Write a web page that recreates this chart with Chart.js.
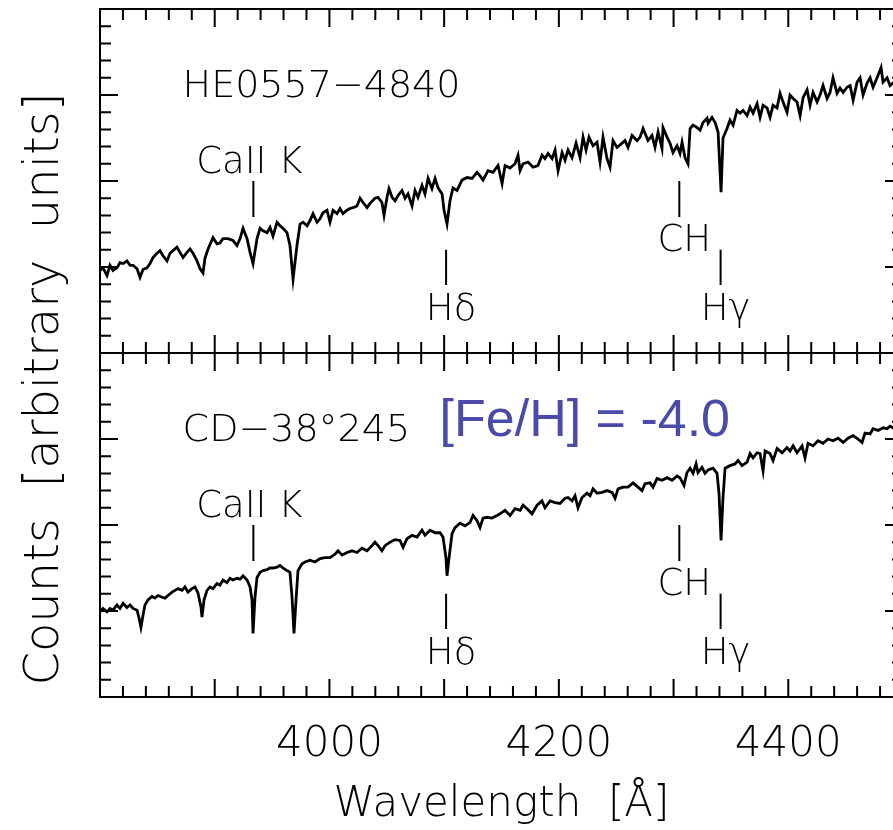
<!DOCTYPE html>
<html>
<head>
<meta charset="utf-8">
<script src="https://cdn.jsdelivr.net/npm/chart.js@4.4.1/dist/chart.umd.min.js"></script>
<style>
html,body{margin:0;padding:0;background:#fff;overflow:hidden;}
#wrap{width:893px;height:830px;overflow:hidden;}
canvas{display:block;}
</style>
</head>
<body>
<div id="wrap"><canvas id="spec" width="910" height="830"></canvas></div>
<script>
// HE0557-4840 (upper panel), wavelength in A, counts in arbitrary units
var topWave = [
3800.0,3802.6,3806.1,3808.7,3811.3,3814.8,3817.4,3820.1,3823.5,3826.2,
3828.8,3832.3,3834.9,3837.5,3841.0,3843.6,3846.2,3849.7,3852.3,3854.9,
3858.4,3861.0,3863.6,3867.1,3869.7,3872.4,3875.8,3878.5,3881.1,3884.6,
3887.2,3889.8,3891.5,3894.2,3898.5,3902.0,3904.6,3907.2,3911.6,3915.9,
3919.4,3922.1,3924.7,3928.2,3930.8,3933.4,3936.9,3939.5,3942.1,3945.6,
3948.2,3950.8,3954.3,3956.9,3959.5,3963.0,3965.6,3968.3,3971.7,3974.4,
3977.0,3980.5,3983.1,3985.7,3989.2,3991.8,3994.4,3997.9,4000.5,4003.1,
4006.6,4009.2,4011.8,4015.3,4017.9,4020.6,4024.0,4026.7,4029.3,4032.8,
4035.4,4039.7,4042.4,4045.8,4047.6,4050.2,4051.9,4054.6,4057.2,4059.8,
4063.3,4065.9,4068.5,4072.0,4074.6,4077.2,4080.7,4083.3,4086.0,4089.4,
4092.1,4094.7,4098.2,4099.9,4102.5,4105.1,4107.7,4111.2,4115.6,4119.9,
4124.3,4128.7,4131.3,4133.9,4138.3,4142.6,4147.0,4150.5,4153.1,4157.4,
4161.8,4164.4,4166.2,4168.8,4173.1,4177.5,4181.8,4185.3,4187.9,4190.6,
4194.1,4196.7,4199.3,4202.8,4205.4,4208.0,4211.5,4215.0,4218.5,4221.1,
4223.7,4226.3,4229.8,4233.3,4235.9,4238.5,4242.0,4244.6,4247.2,4250.7,
4255.1,4257.7,4260.3,4263.8,4268.2,4270.8,4273.4,4277.7,4281.2,4283.8,
4286.5,4289.9,4290.8,4294.3,4296.9,4299.5,4303.0,4305.6,4307.4,4310.0,
4312.6,4314.4,4317.0,4320.5,4323.1,4325.7,4329.2,4330.1,4333.5,4336.2,
4338.8,4341.4,4343.1,4346.6,4349.2,4351.9,4355.3,4358.0,4360.6,4364.1,
4366.7,4369.3,4372.8,4375.4,4378.0,4381.5,4384.1,4386.7,4390.2,4392.8,
4395.4,4398.9,4401.5,4404.2,4407.6,4410.3,4412.9,4416.4,4419.0,4421.6,
4425.1,4427.7,4430.3,4433.8,4436.4,4439.0,4442.5,4445.1,4447.8,4451.2,
4453.9,4456.5,4460.0,4462.6,4465.2,4468.7,4471.3,4473.9,4477.4,4480.9,
4482.6,4486.1,4488.7,4491.3,4494.8,4500.0
];
var topFlux = [
0.96,0.99,0.90,1.02,0.96,0.99,1.05,1.04,1.07,1.02,
1.02,0.98,0.88,0.97,0.99,1.04,1.11,1.16,1.19,1.13,
1.07,1.16,1.19,1.23,1.17,1.11,1.17,1.21,1.16,1.07,
0.98,0.93,1.10,1.21,1.34,1.27,1.28,1.33,1.33,1.31,
1.25,1.33,1.45,1.33,1.17,1.04,1.33,1.45,1.42,1.40,
1.46,1.36,1.52,1.48,1.45,1.40,1.25,0.86,1.25,1.50,
1.52,1.48,1.54,1.62,1.52,1.56,1.63,1.66,1.52,1.66,
1.62,1.68,1.62,1.66,1.68,1.69,1.71,1.80,1.75,1.69,
1.74,1.80,1.81,1.75,1.60,1.81,1.91,1.81,1.77,1.83,
1.89,1.80,1.85,1.71,1.89,1.81,1.95,1.85,2.03,1.91,
2.03,1.92,1.85,1.66,1.50,1.77,1.92,1.89,2.01,2.04,
2.03,2.10,2.06,2.01,2.12,2.10,2.18,1.97,2.18,2.15,
2.20,2.30,2.12,2.20,2.22,2.16,2.18,2.30,2.26,2.32,
2.26,2.36,2.12,2.33,2.24,2.36,2.27,2.44,2.27,2.51,
2.36,2.51,2.41,2.45,2.22,2.51,2.26,2.16,2.47,2.39,
2.44,2.47,2.39,2.53,2.47,2.51,2.61,2.47,2.53,2.39,
2.57,2.38,2.62,2.51,2.44,2.33,2.41,2.32,2.45,2.27,
2.20,2.61,2.65,2.62,2.59,2.68,2.73,2.67,2.74,2.68,
2.57,1.87,2.50,2.61,2.71,2.65,2.82,2.79,2.82,2.76,
2.86,2.79,2.90,2.74,2.88,2.85,2.74,2.88,2.85,3.02,
2.92,2.80,3.00,2.96,2.92,2.76,2.97,3.06,2.88,3.03,
2.92,3.00,3.11,2.96,3.03,3.20,3.02,3.08,3.03,3.09,
3.11,2.94,3.15,3.20,3.00,3.14,3.20,3.09,3.20,3.32,
3.15,3.20,3.11,3.14,3.17,3.20
];

// CD-38 245 (lower panel)
var botWave = [
3800.0,3802.6,3806.1,3808.7,3811.3,3814.8,3817.4,3820.1,3823.5,3826.2,
3828.8,3832.3,3834.0,3835.7,3837.5,3839.2,3841.8,3845.3,3847.9,3850.6,
3854.1,3856.7,3859.3,3862.8,3865.4,3868.0,3871.5,3874.1,3876.7,3880.2,
3882.8,3885.4,3888.1,3888.9,3890.7,3893.3,3895.9,3898.5,3902.0,3904.6,
3907.2,3910.7,3913.3,3915.9,3919.4,3922.1,3924.7,3928.2,3930.8,3932.5,
3933.4,3935.1,3936.9,3939.5,3942.1,3945.6,3948.2,3950.8,3954.3,3956.9,
3959.5,3963.0,3965.6,3967.4,3969.1,3970.9,3972.6,3976.1,3978.7,3983.1,
3987.4,3991.8,3996.2,4000.5,4004.9,4007.5,4011.0,4015.3,4019.7,4024.0,
4028.4,4032.8,4037.1,4039.7,4042.4,4045.8,4048.5,4052.8,4057.2,4061.5,
4064.2,4067.6,4072.0,4076.4,4080.7,4083.3,4087.7,4092.1,4096.4,4099.0,
4101.6,4102.5,4104.3,4106.9,4109.5,4113.8,4118.2,4122.6,4125.2,4128.7,
4131.3,4133.9,4137.4,4141.7,4146.1,4148.7,4153.1,4157.4,4161.8,4166.2,
4168.8,4172.3,4176.6,4181.0,4185.3,4187.9,4192.3,4196.7,4201.0,4205.4,
4208.0,4211.5,4214.1,4216.7,4220.2,4224.6,4227.2,4229.8,4233.3,4237.6,
4242.0,4246.4,4249.0,4251.6,4255.9,4260.3,4264.7,4269.0,4272.5,4275.1,
4279.5,4282.1,4285.6,4290.0,4294.3,4298.7,4303.0,4305.6,4309.1,4311.7,
4314.4,4317.0,4319.6,4321.3,4324.8,4327.4,4330.1,4334.4,4337.9,4339.6,
4341.4,4343.1,4344.9,4349.2,4353.6,4356.2,4359.7,4364.1,4366.7,4369.3,
4372.8,4375.4,4378.0,4379.8,4384.1,4386.7,4390.2,4394.6,4398.9,4401.5,
4404.2,4407.6,4412.0,4414.6,4417.2,4421.6,4425.9,4430.3,4434.7,4439.0,
4443.4,4447.8,4452.1,4456.5,4460.8,4464.3,4466.9,4471.3,4473.9,4478.3,
4482.6,4486.1,4488.7,4491.3,4494.8,4500.0
];
var botFlux = [
0.99,1.03,0.99,1.03,1.01,1.07,1.03,1.09,1.04,1.07,
1.03,1.01,0.92,0.81,0.95,1.07,1.13,1.17,1.15,1.18,
1.16,1.15,1.18,1.22,1.24,1.26,1.24,1.28,1.22,1.26,
1.28,1.21,1.04,0.93,1.13,1.24,1.28,1.26,1.32,1.30,
1.36,1.33,1.38,1.36,1.38,1.37,1.41,1.36,1.28,1.13,
0.74,1.16,1.39,1.45,1.47,1.48,1.50,1.50,1.51,1.53,
1.50,1.47,1.45,1.16,0.74,1.13,1.47,1.55,1.57,1.59,
1.57,1.61,1.62,1.62,1.66,1.70,1.65,1.68,1.70,1.68,
1.73,1.70,1.76,1.80,1.76,1.70,1.76,1.80,1.83,1.82,
1.74,1.84,1.88,1.86,1.94,1.88,1.94,1.91,1.91,1.86,
1.62,1.41,1.62,1.90,1.97,2.02,1.99,2.03,2.11,2.05,
1.97,2.08,2.09,2.08,2.11,2.13,2.17,2.11,2.19,2.17,
2.23,2.19,2.13,2.23,2.28,2.20,2.28,2.26,2.25,2.31,
2.32,2.28,2.34,2.20,2.32,2.37,2.34,2.42,2.37,2.38,
2.40,2.38,2.31,2.42,2.44,2.44,2.49,2.44,2.40,2.48,
2.49,2.44,2.54,2.52,2.55,2.52,2.57,2.55,2.46,2.61,
2.66,2.60,2.71,2.61,2.67,2.60,2.64,2.66,2.60,2.37,
1.82,2.32,2.66,2.69,2.71,2.75,2.69,2.73,2.83,2.78,
2.84,2.83,2.63,2.86,2.83,2.75,2.89,2.84,2.90,2.86,
2.92,2.84,2.92,2.78,2.95,2.92,2.98,2.95,3.00,2.98,
3.01,2.96,3.01,3.04,3.00,2.96,3.07,3.06,3.12,3.10,
3.13,3.12,3.15,3.13,3.15,3.17
];

var xTickLabels = [4000, 4200, 4400];
var starNames = ['HE0557\u22124840', 'CD\u221238\u00b0245'];
var metalLabel = '[Fe/H] = -4.0';
var lineNames = ['CaII K', 'H\u03b4', 'CH', 'H\u03b3'];
var lineWave = [3933.7, 4101.7, 4305, 4341];

;(function(win){
    var thin = '200 ';
    var main = {
        init: function(){
            this.createChart();
        },

        // frame, inward ticks and line labels for both panels
        framePlugin: {
            id: 'frame',
            afterDatasetsDraw: function(chart){
                var ctx = chart.ctx;
                var x = chart.scales.x;
                var panels = [chart.scales.yTop, chart.scales.yBot];
                var markTop = [2.0, 1.2, 2.0, 1.2];
                var markBot = [1.58, 0.79, 1.58, 0.79];
                var textBase = [2.09, 0.38, 1.19, 0.38];
                var textShift = [-4, 5, 5, 5];
                ctx.save();
                ctx.strokeStyle = '#000';
                ctx.fillStyle = '#000';
                ctx.lineWidth = 2;
                panels.forEach(function(y, p){
                    ctx.strokeRect(x.left, y.top, x.right - x.left, y.bottom - y.top);
                    ctx.beginPath();
                    for (var w = 3800; w <= 4500; w += 20) {
                        var px = x.getPixelForValue(w);
                        var len = (w % 100 === 0) ? 18 : 11;
                        ctx.moveTo(px, y.top);
                        ctx.lineTo(px, y.top + len);
                        ctx.moveTo(px, y.bottom);
                        ctx.lineTo(px, y.bottom - len);
                    }
                    for (var i = 0; i <= 20; i++) {
                        var py = y.getPixelForValue(i / 5);
                        var l = (i % 5 === 0) ? 18 : 11;
                        ctx.moveTo(x.left, py);
                        ctx.lineTo(x.left + l, py);
                        ctx.moveTo(x.right, py);
                        ctx.lineTo(x.right - l, py);
                    }
                    for (var k = 0; k < lineWave.length; k++) {
                        var mx = x.getPixelForValue(lineWave[k]);
                        ctx.moveTo(mx, y.getPixelForValue(markTop[k]));
                        ctx.lineTo(mx, y.getPixelForValue(markBot[k]));
                    }
                    ctx.stroke();

                    ctx.font = thin + '37px "DejaVu Sans"';
                    ctx.textAlign = 'center';
                    ctx.textBaseline = 'alphabetic';
                    for (var n = 0; n < lineNames.length; n++) {
                        ctx.fillText(lineNames[n], x.getPixelForValue(lineWave[n]) + textShift[n], y.getPixelForValue(textBase[n]));
                    }
                    ctx.textAlign = 'left';
                    ctx.font = thin + '38px "DejaVu Sans"';
                    ctx.fillText(starNames[p], x.getPixelForValue(3872), y.getPixelForValue(2.98));
                });

                ctx.fillStyle = '#4a4aa8';
                ctx.font = '52px "Liberation Sans"';
                ctx.fillText(metalLabel, x.getPixelForValue(4096), chart.scales.yBot.getPixelForValue(3.04));

                ctx.fillStyle = '#000';
                ctx.font = thin + '48px "DejaVu Sans"';
                ctx.translate(58, 389);
                ctx.rotate(-Math.PI / 2);
                ctx.textAlign = 'center';
                ctx.fillText('Counts  [arbitrary  units]', 0, 0);
                ctx.restore();
            }
        },

        panelAxis: function(){
            return {
                type: 'linear',
                position: 'left',
                stack: 'panels',
                stackWeight: 1,
                min: 0,
                max: 4,
                grid: {display: false, drawTicks: false},
                border: {display: false},
                ticks: {display: false},
                afterFit: function(s){ s.width = 100; }
            };
        },

        spectrum: function(wave, flux, axis){
            return {
                data: wave.map(function(w, i){ return {x: w, y: flux[i]}; }),
                yAxisID: axis,
                borderColor: '#000',
                borderWidth: 2.8,
                pointRadius: 0,
                tension: 0,
                fill: false
            };
        },

        createChart: function(){
            var self = this;
            var font = {family: 'DejaVu Sans', size: 42, weight: 200};
            this.specChart = new Chart(document.getElementById('spec'), {
                type: 'line',
                data: {
                    datasets: [
                        self.spectrum(topWave, topFlux, 'yTop'),
                        self.spectrum(botWave, botFlux, 'yBot')
                    ]
                },
                options: {
                    responsive: false,
                    animation: false,
                    devicePixelRatio: 1,
                    layout: {padding: {top: 9, right: 7, left: 0, bottom: 0}},
                    plugins: {legend: {display: false}, tooltip: {enabled: false}},
                    scales: {
                        x: {
                            type: 'linear',
                            min: 3800,
                            max: 4500,
                            grid: {display: false, drawTicks: false},
                            border: {display: false},
                            afterBuildTicks: function(s){
                                s.ticks = xTickLabels.map(function(v){ return {value: v}; });
                            },
                            ticks: {
                                autoSkip: false, maxRotation: 0, padding: 23, color: '#000', font: font,
                                callback: function(v){ return String(v); }
                            },
                            title: {display: true, text: 'Wavelength  [\u00c5]', color: '#000', font: font, padding: {top: 0, bottom: 0}},
                            afterFit: function(s){ s.height = 133; }
                        },
                        // stacked axes are laid out bottom-up
                        yBot: self.panelAxis(),
                        yTop: self.panelAxis()
                    }
                },
                plugins: [self.framePlugin]
            });
        }
    };

    main.init();
})(window);
</script>
</body>
</html>
